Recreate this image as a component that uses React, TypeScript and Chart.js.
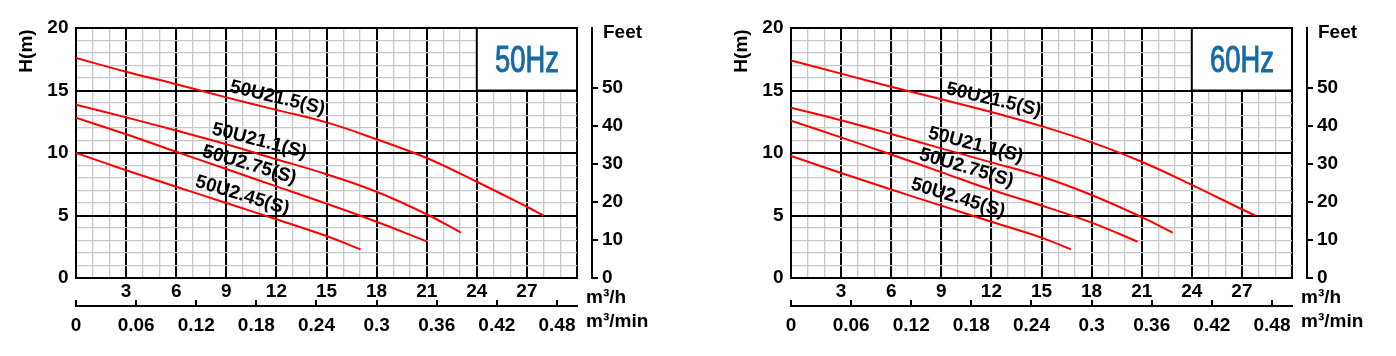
import React, { useEffect, useRef } from 'react';
import { Chart, registerables } from 'chart.js';

Chart.register(...registerables);

// ---------- data ----------
const MODELS = ['50U21.5(S)', '50U21.1(S)', '50U2.75(S)', '50U2.45(S)'];

// 50 Hz  (flow m³/h, head m)
const Q50_215 = [0, 3, 6, 9, 12, 15, 18, 21, 24, 27, 28];
const H50_215 = [17.6, 16.5, 15.5, 14.45, 13.45, 12.45, 11.1, 9.6, 7.7, 5.7, 5.0];
const Q50_211 = [0, 3, 6, 9, 12, 15, 18, 21, 23.05];
const H50_211 = [13.87, 12.85, 11.8, 10.7, 9.5, 8.3, 6.9, 5.1, 3.63];
const Q50_275 = [0, 3, 6, 9, 12, 15, 18, 21];
const H50_275 = [12.83, 11.5, 10.1, 8.72, 7.33, 5.95, 4.5, 2.93];
const Q50_245 = [0, 3, 6, 9, 12, 15, 17.04];
const H50_245 = [10.0, 8.62, 7.3, 6.0, 4.7, 3.36, 2.29];

// 60 Hz
const Q60_215 = [0, 3, 6, 9, 12, 15, 18, 21, 24, 27, 27.8];
const H60_215 = [17.4, 16.35, 15.3, 14.3, 13.28, 12.15, 10.85, 9.3, 7.45, 5.5, 5.0];
const Q60_211 = [0, 3, 6, 9, 12, 15, 18, 21, 22.86];
const H60_211 = [13.62, 12.62, 11.52, 10.37, 9.25, 8.12, 6.64, 4.87, 3.63];
const Q60_275 = [0, 3, 6, 9, 12, 15, 18, 20.76];
const H60_275 = [12.58, 11.25, 9.88, 8.47, 7.06, 5.8, 4.43, 2.91];
const Q60_245 = [0, 3, 6, 9, 12, 15, 16.76];
const H60_245 = [9.76, 8.4, 7.08, 5.79, 4.5, 3.23, 2.29];

// axes / ticks
const QH_TICKS = [3, 6, 9, 12, 15, 18, 21, 24, 27];
const QH_MAJOR = [0, 3, 6, 9, 12, 15, 18, 21, 24, 27, 30];
const H_TICKS = [0, 5, 10, 15, 20];
const M3MIN_TICKS = [0, 0.06, 0.12, 0.18, 0.24, 0.3, 0.36, 0.42, 0.48];
const FEET_TICKS = [0, 10, 20, 30, 40, 50];
const Q_MAX = 30;
const H_MAX = 20;
const M_PER_FOOT = 0.3048;

// ---------- styling ----------
const FONT = "'Liberation Sans', Arial, Helvetica, sans-serif";
const TICK_FONT = { family: FONT, size: 19, weight: 'bold' as const };
const RED = '#ff0000';
const HZ_BLUE = '#176ba4';
const MINOR = '#c8c8c8';

// label anchors [flow, head, angle°]
const LBL50 = [[12.06, 14.4, 13.5], [10.98, 10.96, 14.5], [10.38, 9.04, 16.5], [9.96, 6.6, 17]];
const LBL60 = [[12.14, 14.24, 13.5], [11.06, 10.64, 14.5], [10.5, 8.8, 16.5], [10.0, 6.4, 17]];

const seq = (n: number) => Array.from({ length: n + 1 }, (_, i) => i);

function makeDecor(hz: string, anchors: number[][]) {
  return {
    id: 'decor',
    beforeDatasetsDraw(chart: any) {
      const { ctx, chartArea, scales } = chart;
      const x = scales.x, y = scales.y;
      const bx = x.getPixelForValue(24);
      const by = y.getPixelForValue(15);
      ctx.save();
      ctx.fillStyle = '#fff';
      ctx.fillRect(bx, chartArea.top, chartArea.right - bx, by - chartArea.top);
      ctx.strokeStyle = '#000';
      ctx.lineWidth = 2;
      ctx.strokeRect(bx, chartArea.top, chartArea.right - bx, by - chartArea.top);
      const size = 37;
      ctx.font = `${size}px ${FONT}`;
      ctx.fillStyle = HZ_BLUE;
      ctx.strokeStyle = HZ_BLUE;
      ctx.lineWidth = 1;
      ctx.lineJoin = 'round';
      ctx.textAlign = 'center';
      ctx.textBaseline = 'alphabetic';
      ctx.translate((bx + chartArea.right) / 2, (chartArea.top + by) / 2 + size * 0.716 / 2);
      ctx.scale(0.74, 1);
      ctx.fillText(hz, 0, 0);
      ctx.strokeText(hz, 0, 0);
      ctx.restore();
    },
    afterDatasetsDraw(chart: any) {
      const { ctx, chartArea, scales } = chart;
      const x = scales.x, y = scales.y;
      ctx.save();
      ctx.fillStyle = '#000';
      ctx.font = `bold 19px ${FONT}`;
      // curve labels
      anchors.forEach((a, i) => {
        ctx.save();
        ctx.translate(x.getPixelForValue(a[0]), y.getPixelForValue(a[1]));
        ctx.rotate((a[2] * Math.PI) / 180);
        ctx.textAlign = 'center';
        ctx.textBaseline = 'middle';
        ctx.fillText(MODELS[i], 0, 0);
        ctx.restore();
      });
      // axis titles
      ctx.textAlign = 'left';
      ctx.textBaseline = 'alphabetic';
      const feet = scales.yFeet;
      ctx.fillText('Feet', feet.left + 11, chartArea.top + 10);
      ctx.fillText('m³/h', chartArea.right + 9, scales.x.bottom - 3.5);
      ctx.fillText('m³/min', chartArea.right + 9, scales.x2.top + 21);
      ctx.save();
      ctx.translate(32, 51);
      ctx.rotate(-Math.PI / 2);
      ctx.textAlign = 'center';
      ctx.fillText('H(m)', 0, 0);
      ctx.restore();
      ctx.restore();
    },
  };
}

function buildOptions(width: number): any {
  return {
    responsive: false,
    animation: false,
    devicePixelRatio: 1,
    events: [],
    layout: { padding: { left: 0, right: 0, top: 28, bottom: 0 } },
    plugins: { legend: { display: false }, tooltip: { enabled: false } },
    elements: { point: { radius: 0 } },
    scales: {
      xMinor: {
        type: 'linear', position: 'bottom', weight: -1, min: 0, max: Q_MAX,
        afterBuildTicks: (s: any) => { s.ticks = seq(Q_MAX).map((v) => ({ value: v })); },
        ticks: { display: false },
        grid: { color: MINOR, lineWidth: 1.3, drawTicks: false, z: -1 },
        border: { display: false },
        afterFit: (s: any) => { s.height = 0; },
      },
      x: {
        type: 'linear', position: 'bottom', weight: 0, min: 0, max: Q_MAX,
        afterBuildTicks: (s: any) => { s.ticks = QH_MAJOR.map((v) => ({ value: v })); },
        ticks: {
          autoSkip: false, maxRotation: 0, padding: 2, color: '#000', font: TICK_FONT,
          callback: (v: number) => (QH_TICKS.includes(v) ? String(v) : ''),
        },
        grid: { color: '#000', lineWidth: 2, drawTicks: false },
        border: { display: true, color: '#000', width: 2 },
        afterFit: (s: any) => { s.height = 28; },
      },
      x2: {
        type: 'linear', position: 'bottom', weight: 1, min: 0, max: Q_MAX / 60,
        afterBuildTicks: (s: any) => { s.ticks = M3MIN_TICKS.map((v) => ({ value: v })); },
        ticks: {
          autoSkip: false, maxRotation: 0, padding: 14, color: '#000', font: TICK_FONT,
          callback: (v: number) => String(Math.round(v * 100) / 100),
        },
        grid: { drawOnChartArea: false, drawTicks: true, tickLength: -6, color: '#000', lineWidth: 2 },
        border: { display: true, color: '#000', width: 2 },
        afterFit: (s: any) => { s.height = 50; },
      },
      yMinor: {
        type: 'linear', position: 'left', weight: -1, min: 0, max: H_MAX,
        afterBuildTicks: (s: any) => { s.ticks = seq(H_MAX).map((v) => ({ value: v })); },
        ticks: { display: false },
        grid: { color: MINOR, lineWidth: 1.3, drawTicks: false, z: -1 },
        border: { display: false },
        afterFit: (s: any) => { s.width = 0; },
      },
      y: {
        type: 'linear', position: 'left', weight: 0, min: 0, max: H_MAX,
        afterBuildTicks: (s: any) => { s.ticks = H_TICKS.map((v) => ({ value: v })); },
        ticks: { padding: 7.5, color: '#000', font: TICK_FONT },
        grid: { color: '#000', lineWidth: 2, drawTicks: false },
        border: { display: true, color: '#000', width: 2 },
        afterFit: (s: any) => { s.width = 76; },
      },
      yGap: {
        type: 'linear', position: 'right', weight: 0, min: 0, max: H_MAX,
        ticks: { display: false },
        grid: { display: false },
        border: { display: false },
        afterFit: (s: any) => { s.width = 15; },
      },
      yFeet: {
        type: 'linear', position: 'right', weight: 1, min: 0, max: H_MAX / M_PER_FOOT,
        afterBuildTicks: (s: any) => { s.ticks = FEET_TICKS.map((v) => ({ value: v })); },
        ticks: { padding: 4, color: '#000', font: TICK_FONT },
        grid: { drawOnChartArea: false, drawTicks: true, tickLength: 6, color: '#000', lineWidth: 2 },
        border: { display: true, color: '#000', width: 2 },
        afterFit: (s: any) => { s.width = width - 592; },
      },
    },
  };
}

function toSeries(qs: number[][], hs: number[][]) {
  return qs.map((q, i) => ({
    label: MODELS[i],
    data: q.map((v, j) => ({ x: v, y: hs[i][j] })),
    borderColor: RED,
    borderWidth: 2,
    pointRadius: 0,
    fill: false,
    tension: 0.4,
    xAxisID: 'x',
    yAxisID: 'y',
  }));
}

function PumpChart(props: { width: number; left: number; hz: string; qs: number[][]; hs: number[][]; anchors: number[][] }) {
  const ref = useRef<HTMLCanvasElement>(null);
  useEffect(() => {
    const chart = new Chart(ref.current as HTMLCanvasElement, {
      type: 'line',
      data: { datasets: toSeries(props.qs, props.hs) as any },
      options: buildOptions(props.width),
      plugins: [makeDecor(props.hz, props.anchors) as any],
    });
    return () => chart.destroy();
  }, []);
  return (
    <canvas
      ref={ref}
      width={props.width}
      height={356}
      style={{ position: 'absolute', left: props.left, top: 0, width: props.width, height: 356, display: 'block' }}
    />
  );
}

export default function App() {
  return (
    <div style={{ position: 'absolute', left: 0, top: 0, width: 1396, height: 356, background: '#fff' }}>
      <PumpChart
        width={700}
        left={0}
        hz="50Hz"
        qs={[Q50_215, Q50_211, Q50_275, Q50_245]}
        hs={[H50_215, H50_211, H50_275, H50_245]}
        anchors={LBL50}
      />
      <PumpChart
        width={681}
        left={715}
        hz="60Hz"
        qs={[Q60_215, Q60_211, Q60_275, Q60_245]}
        hs={[H60_215, H60_211, H60_275, H60_245]}
        anchors={LBL60}
      />
    </div>
  );
}
